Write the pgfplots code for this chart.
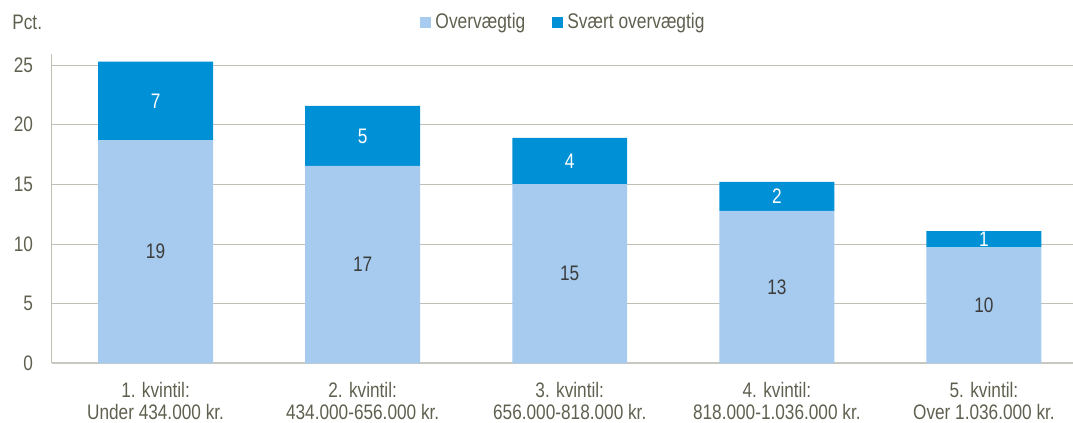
\documentclass[border=0pt]{standalone}
\usepackage{pgfplots}
\pgfplotsset{compat=1.18}
\usepackage{fontspec}
\setmainfont{Liberation Sans}[FakeStretch=0.82]
\definecolor{lightb}{RGB}{166,203,238}
\definecolor{darkb}{RGB}{0,144,213}
\definecolor{gridc}{RGB}{192,192,182}
\definecolor{axc}{RGB}{200,200,192}
\definecolor{txt}{RGB}{96,96,80}
\definecolor{lab}{RGB}{60,60,60}
\tikzset{vl/.style={font=\fontsize{10.5}{11}\selectfont, inner sep=0pt}}
\begin{document}
\begin{tikzpicture}
\useasboundingbox (0pt,0pt) rectangle (536.5pt,211.5pt);
\begin{axis}[
  at={(26pt,29.85pt)}, anchor=south west,
  scale only axis, width=510.5pt, height=154.65pt,
  ybar stacked, bar width=0.555,
  xmin=-0.5, xmax=4.43, ymin=0, ymax=25.93,
  axis x line*=bottom, axis y line*=left,
  x axis line style={axc, line width=1pt},
  y axis line style={gridc, line width=0.5pt},
  tick style={draw=none},
  ymajorgrids, grid style={gridc, line width=0.5pt},
  ytick={0,5,10,15,20,25},
  xtick={0,1,2,3,4},
  xticklabels={{1. kvintil:\\Under 434.000 kr.},{2. kvintil:\\434.000-656.000 kr.},{3. kvintil:\\656.000-818.000 kr.},{4. kvintil:\\818.000-1.036.000 kr.},{5. kvintil:\\Over 1.036.000 kr.}},
  xticklabel style={align=center, font=\fontsize{10.5}{11}\selectfont, text=txt, yshift=-6pt},
  yticklabel style={font=\fontsize{10.5}{11}\selectfont, text=txt, anchor=east, xshift=-6pt},
  /pgf/number format/assume math mode=true,
  legend style={at={(0.5005,1.103)}, anchor=center, draw=none, fill=none, legend columns=2, font=\fontsize{10.6}{11}\selectfont, text=txt, /tikz/every even column/.append style={column sep=10pt}},
  legend image code/.code={\path (0pt,0pt); \fill[#1] (1.5pt,-2.75pt) rectangle (7pt,2.75pt);},
  after end axis/.code={
    \node[vl, text=lab] at (axis cs:0,9.35) {19};
    \node[vl, text=lab] at (axis cs:1,8.27) {17};
    \node[vl, text=lab] at (axis cs:2,7.52) {15};
    \node[vl, text=lab] at (axis cs:3,6.39) {13};
    \node[vl, text=lab] at (axis cs:4,4.86) {10};
    \node[vl, text=white] at (axis cs:0,21.99) {7};
    \node[vl, text=white] at (axis cs:1,19.06) {5};
    \node[vl, text=white] at (axis cs:2,16.96) {4};
    \node[vl, text=white] at (axis cs:3,13.99) {2};
    \node[vl, text=white] at (axis cs:4,10.41) {1};
  },
]
\addplot[fill=lightb, draw=none] coordinates {(0,18.69) (1,16.54) (2,15.03) (3,12.77) (4,9.72)};
\addlegendentry{Overvægtig}
\addplot[fill=darkb, draw=none] coordinates {(0,6.59) (1,5.03) (2,3.86) (3,2.43) (4,1.37)};
\addlegendentry{Svært overvægtig}
\end{axis}
\node[anchor=base west, inner sep=0pt, text=txt, font=\fontsize{10.5}{11}\selectfont] at (6pt,196.5pt) {Pct.};
\end{tikzpicture}
\end{document}
